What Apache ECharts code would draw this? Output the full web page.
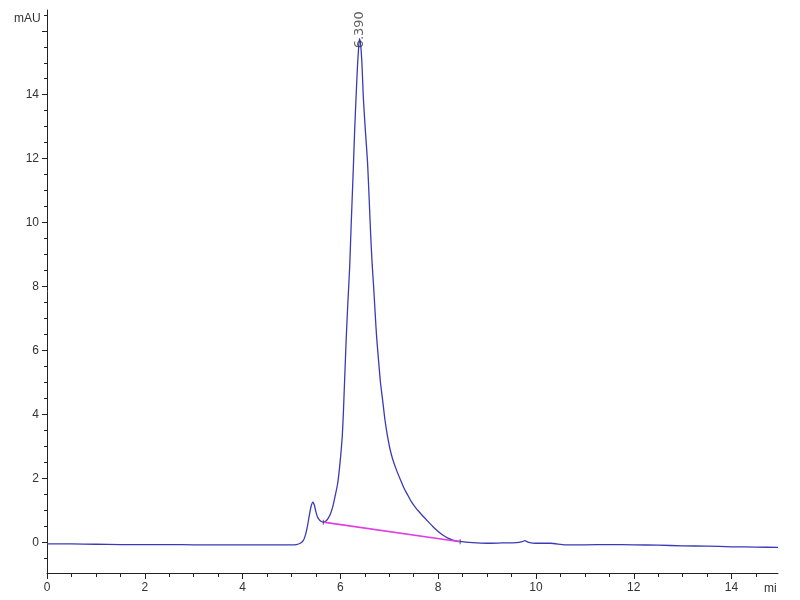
<!DOCTYPE html>
<html>
<head>
<meta charset="utf-8">
<script src="https://cdn.jsdelivr.net/npm/echarts@6/dist/echarts.min.js"></script>
<style>
html,body{margin:0;padding:0;background:#fff;}
#chart{width:800px;height:600px;}
</style>
</head>
<body>
<div id="chart"></div>
<script>
// ---- data ----
var timeMin = [0, 0.5, 1.0, 1.5, 2.0, 2.5, 3.0, 3.5, 4.0, 4.5, 5.0, 5.1, 5.18, 5.24, 5.28, 5.32, 5.36, 5.4, 5.44, 5.47,
  5.5, 5.53, 5.57, 5.61, 5.65, 5.7, 5.75, 5.8, 5.85, 5.9, 5.94, 5.97, 6.0, 6.02, 6.04, 6.06, 6.08, 6.1, 6.12, 6.15,
  6.19, 6.22, 6.26, 6.29, 6.32, 6.35, 6.37, 6.39, 6.41, 6.44, 6.47, 6.51, 6.555, 6.59, 6.62, 6.65, 6.68, 6.71, 6.74, 6.78,
  6.82, 6.87, 6.91, 6.96, 7.01, 7.07, 7.15, 7.23, 7.3, 7.38, 7.45, 7.53, 7.6, 7.7, 7.8, 7.9, 8.0, 8.1, 8.2, 8.3,
  8.44, 8.7, 9.0, 9.3, 9.6, 9.72, 9.77, 9.85, 10.0, 10.3, 10.6, 11.0, 11.5, 12.0, 12.5, 13.0, 13.5, 14.0, 14.5, 14.95];
var signalMAU = [-0.05, -0.05, -0.06, -0.07, -0.07, -0.07, -0.08, -0.08, -0.08, -0.08, -0.08, -0.07, -0.03, 0.05, 0.2, 0.45, 0.8, 1.12, 1.26, 1.15,
  0.95, 0.8, 0.7, 0.65, 0.63, 0.66, 0.75, 0.9, 1.15, 1.5, 1.8, 2.15, 2.6, 2.95, 3.35, 4.0, 4.8, 5.6, 6.4, 7.4,
  8.6, 9.9, 11.5, 12.8, 13.9, 14.9, 15.4, 15.75, 15.65, 15.0, 13.9, 12.9, 11.9, 10.7, 9.6, 8.7, 8.0, 7.2, 6.45, 5.7,
  5.0, 4.37, 3.85, 3.35, 2.95, 2.6, 2.25, 1.95, 1.7, 1.47, 1.27, 1.1, 0.97, 0.8, 0.64, 0.48, 0.34, 0.22, 0.13, 0.07,
  0.03, -0.01, -0.03, -0.02, -0.01, 0.02, 0.05, 0.0, -0.03, -0.03, -0.08, -0.08, -0.07, -0.08, -0.09, -0.11, -0.12, -0.14, -0.15, -0.16];
var baselineTime = [5.65, 8.45];
var baselineMAU = [0.63, 0.02];
var peakTime = 6.39;
var peakLabel = '6.390';
var peakLabelMAU = 15.45;

var xMajor = [0, 2, 4, 6, 8, 10, 12, 14];
var xMinor = [0.5, 1, 1.5, 2.5, 3, 3.5, 4.5, 5, 5.5, 6.5, 7, 7.5, 8.5, 9, 9.5, 10.5, 11, 11.5, 12.5, 13, 13.5, 14.5];
var yMajor = [0, 2, 4, 6, 8, 10, 12, 14, 16];
var yLabels = [0, 2, 4, 6, 8, 10, 12, 14];
var yMinor = [-0.5, 0.5, 1, 1.5, 2.5, 3, 3.5, 4.5, 5, 5.5, 6.5, 7, 7.5, 8.5, 9, 9.5, 10.5, 11, 11.5, 12.5, 13, 13.5, 14.5, 15, 15.5, 16.5];

var X_MIN = 0, X_MAX = 14.95, Y_MIN = -0.96, Y_MAX = 16.65;

function zip(a, b) { var r = []; for (var i = 0; i < a.length; i++) r.push([a[i], b[i]]); return r; }

var axisColor = '#222';
var labelFont = { color: '#333', fontSize: 12, fontFamily: 'Liberation Sans, Arial, sans-serif' };

var chart = echarts.init(document.getElementById('chart'), null, { renderer: 'canvas' });
chart.setOption({
  animation: false,
  backgroundColor: '#fff',
  grid: { left: 47, right: 22, top: 10, bottom: 27, containLabel: false },
  xAxis: [
    { type: 'value', min: X_MIN, max: X_MAX, position: 'bottom',
      axisLine: { show: true, onZero: false, lineStyle: { color: axisColor, width: 1 } },
      axisTick: { show: true, length: 6, customValues: xMajor, lineStyle: { color: axisColor } },
      axisLabel: Object.assign({ show: true, margin: 9, customValues: xMajor }, labelFont),
      splitLine: { show: false } },
    { type: 'value', min: X_MIN, max: X_MAX, position: 'bottom',
      axisLine: { show: false, onZero: false },
      axisTick: { show: true, length: 4, customValues: xMinor, lineStyle: { color: axisColor } },
      axisLabel: { show: false }, splitLine: { show: false } }
  ],
  yAxis: [
    { type: 'value', min: Y_MIN, max: Y_MAX, position: 'left',
      axisLine: { show: true, onZero: false, lineStyle: { color: axisColor, width: 1 } },
      axisTick: { show: true, length: 5, customValues: yMajor, lineStyle: { color: axisColor } },
      axisLabel: Object.assign({ show: true, margin: 8, customValues: yLabels }, labelFont),
      splitLine: { show: false } },
    { type: 'value', min: Y_MIN, max: Y_MAX, position: 'left',
      axisLine: { show: false, onZero: false },
      axisTick: { show: true, length: 3, customValues: yMinor, lineStyle: { color: axisColor } },
      axisLabel: { show: false }, splitLine: { show: false } }
  ],
  series: [
    { type: 'line', name: 'signal', data: zip(timeMin, signalMAU), showSymbol: false, smooth: 0.2,
      lineStyle: { color: '#3a3ab8', width: 1.3 }, z: 3 },
    { type: 'line', name: 'baseline', data: zip(baselineTime, baselineMAU), showSymbol: false,
      lineStyle: { color: '#e23ee0', width: 1.6 }, z: 4 },
    { type: 'scatter', name: 'baseMarks', data: zip(baselineTime, baselineMAU), symbol: 'rect', symbolSize: [1, 5],
      itemStyle: { color: '#333' }, z: 5 },
    { type: 'scatter', name: 'peakLabel', data: [[peakTime, peakLabelMAU]], symbolSize: 1,
      itemStyle: { color: 'rgba(0,0,0,0)' },
      label: { show: true, formatter: peakLabel, position: 'inside', rotate: 90, align: 'left', verticalAlign: 'middle',
        color: '#3a3a3a', fontSize: 13, fontFamily: 'DejaVu Sans, sans-serif' }, z: 6 }
  ],
  graphic: [
    { type: 'text', left: 14, top: 13, style: { text: 'mAU', fill: '#333', fontSize: 12, fontFamily: 'Liberation Sans, Arial, sans-serif' } },
    { type: 'text', left: 764, top: 583, style: { text: 'min', fill: '#333', fontSize: 12, width: 16, overflow: 'truncate', ellipsis: '', fontFamily: 'Liberation Sans, Arial, sans-serif' } }
  ]
});
</script>
</body>
</html>
